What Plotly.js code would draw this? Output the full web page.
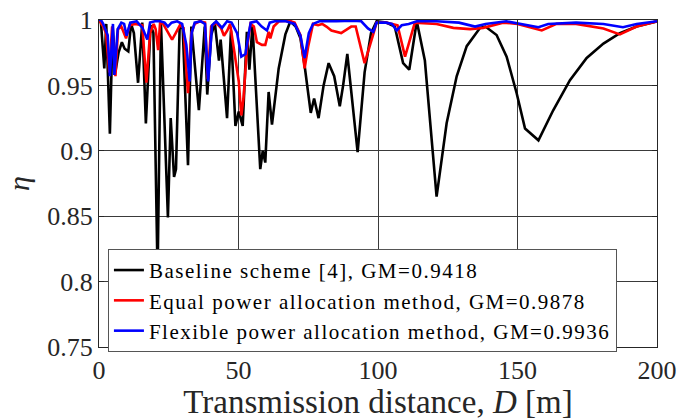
<!DOCTYPE html>
<html>
<head>
<meta charset="utf-8">
<script src="https://cdn.plot.ly/plotly-3.0.1.min.js"></script>
<style>
html,body{margin:0;padding:0;background:#fff;}
#chart{width:697px;height:420px;}
text.legendtext{letter-spacing:1.5px;}
</style>
</head>
<body>
<div id="chart"></div>
<script>
// Baseline scheme [4]
const baseD = [0, 0.7, 1.9, 2.6, 3.9, 4.9, 6.0, 7.0, 8.2, 9.2, 10.5, 11.5, 12.5, 14.0, 15.5, 16.8, 18.5, 19.5, 21.0, 22.2, 24.7, 25.7, 26.9, 27.6, 28.9, 30.0, 31.9, 33.1, 35.8, 36.8, 37.9, 38.8, 40.2, 41.5, 43.0, 43.6, 45.9, 47.3, 48.9, 50.1, 51.5, 53.0, 53.9, 55.0, 57.8, 58.7, 59.6, 60.8, 62.0, 64.4, 66.8, 68.6, 70.5, 72.2, 73.7, 75.9, 77.1, 78.7, 80.5, 82.3, 84.3, 86.3, 87.5, 89.0, 90.8, 92.7, 95.2, 97.5, 99.5, 103, 106, 109, 111.2, 113.9, 116.8, 119.2, 121, 124.6, 128.2, 131.8, 136.6, 138.5, 142.5, 146.1, 149.7, 152.7, 157.5, 162.8, 168.8, 174.8, 180.8, 186.7, 192.7, 200];
const baseEta = [1.0, 0.998, 0.963, 0.997, 0.913, 0.995, 0.962, 0.975, 0.983, 0.978, 0.976, 0.997, 0.99, 0.952, 0.998, 0.921, 0.996, 0.99, 0.805, 0.998, 0.849, 0.925, 0.880, 0.886, 0.994, 0.994, 0.889, 0.995, 0.931, 0.962, 0.995, 0.943, 0.988, 0.998, 0.969, 0.985, 0.925, 0.992, 0.919, 0.930, 0.919, 0.991, 0.962, 0.996, 0.886, 0.900, 0.891, 0.945, 0.920, 0.963, 0.989, 0.999, 0.995, 0.986, 0.965, 0.929, 0.940, 0.925, 0.950, 0.967, 0.957, 0.934, 0.950, 0.974, 0.940, 0.899, 0.960, 0.990, 0.999, 0.998, 0.995, 0.967, 0.962, 0.999, 0.969, 0.906, 0.865, 0.921, 0.957, 0.980, 0.994, 0.995, 0.9885, 0.972, 0.944, 0.917, 0.908, 0.931, 0.954, 0.971, 0.982, 0.990, 0.995, 0.999];

// Equal power allocation method
const equalD = [0, 0.7, 1.5, 2.5, 3.7, 4.7, 5.9, 6.8, 8.0, 9.7, 11.0, 13.0, 15.5, 17.0, 18.3, 19.6, 20.3, 21.2, 21.9, 23.0, 24.7, 26.2, 27.5, 29.0, 30.3, 31.9, 33.1, 34.3, 36, 38, 39.0, 40.2, 42, 43.8, 44.8, 46, 47, 48.9, 50.1, 51.0, 51.8, 53, 54.3, 55.5, 56.6, 58.4, 59.6, 60.8, 61.4, 62.6, 64.5, 68, 70.1, 72.2, 73.7, 75, 76.7, 78.5, 80, 81.5, 83.3, 86.8, 90.4, 92, 93.4, 95.2, 98.2, 99.5, 103, 107, 109.7, 113.2, 121, 127, 133, 137.7, 144.8, 150, 158.7, 164, 171, 180.8, 186.7, 192.7, 200];
const equalEta = [1.0, 0.998, 0.995, 0.99, 0.96, 0.995, 0.957, 0.993, 0.995, 0.986, 0.996, 0.997, 0.996, 0.952, 0.99, 0.997, 0.993, 0.977, 0.998, 0.997, 0.991, 0.985, 0.99, 0.996, 0.994, 0.944, 0.99, 0.997, 0.999, 0.998, 0.955, 0.995, 0.998, 0.9935, 0.988, 0.992, 0.997, 0.971, 0.953, 0.927, 0.94, 0.978, 0.997, 0.995, 0.983, 0.981, 0.981, 0.991, 0.986, 0.995, 0.999, 0.9995, 0.998, 0.9885, 0.963, 0.98, 0.997, 0.996, 0.997, 0.995, 0.992, 0.99, 0.995, 0.995, 0.983, 0.967, 0.9885, 0.998, 0.998, 0.996, 0.972, 0.998, 0.997, 0.994, 0.993, 0.994, 0.998, 0.997, 0.992, 0.997, 0.997, 0.9935, 0.989, 0.995, 0.999];

// Flexible power allocation method
const flexD = [0, 0.7, 1.5, 3.1, 3.9, 5.0, 5.5, 6.7, 8.0, 9.0, 9.9, 11.2, 13.5, 15.6, 17.3, 18.3, 20, 22, 23.5, 24.7, 26.0, 28, 29.8, 31.3, 32.5, 33.2, 34.3, 36.5, 38.0, 39.1, 40.5, 42, 44.1, 45.9, 47.5, 49.5, 51.0, 52.5, 53.7, 54.4, 56.5, 58.3, 60.2, 61.2, 63, 67, 70.1, 72.2, 73.7, 75.2, 76.7, 79, 85, 91, 94, 96.4, 98.3, 99.5, 102.8, 105, 106.7, 108.5, 111, 113.9, 121, 129, 134.8, 138.5, 146, 151, 157.5, 161, 171, 180.8, 187.8, 192.7, 200];
const flexEta = [1.0, 1.0, 0.997, 0.9885, 0.957, 0.997, 0.958, 0.993, 0.998, 0.997, 0.988, 0.998, 0.999, 0.994, 0.985, 0.998, 0.999, 0.999, 0.998, 0.995, 0.998, 0.999, 0.997, 0.981, 0.953, 0.99, 0.998, 0.999, 0.997, 0.953, 0.996, 0.999, 0.994, 0.999, 0.998, 0.99, 0.972, 0.974, 0.99, 0.998, 0.999, 0.995, 0.992, 0.998, 0.999, 0.999, 0.997, 0.988, 0.971, 0.99, 0.997, 0.999, 0.999, 0.9995, 0.999, 0.9936, 0.991, 0.998, 0.998, 0.997, 0.992, 0.996, 0.997, 0.999, 0.999, 0.998, 0.995, 0.997, 0.999, 0.997, 0.9945, 0.997, 0.998, 0.997, 0.9945, 0.997, 0.999];

const seriesNames = [
  'Baseline scheme [4], GM=0.9418',
  'Equal power allocation method, GM=0.9878',
  'Flexible power allocation method, GM=0.9936'
];
const xTickVals = [0, 50, 100, 150, 200];
const yTickVals = [0.75, 0.8, 0.85, 0.9, 0.95, 1];
const yTickText = ['0.75', '0.8', '0.85', '0.9', '0.95', '1'];

const FONT = '"Liberation Serif", "Times New Roman", serif';
const traces = [
  {x: baseD, y: baseEta, name: seriesNames[0], mode: 'lines', line: {color: '#000000', width: 2.6}},
  {x: equalD, y: equalEta, name: seriesNames[1], mode: 'lines', line: {color: '#ff0000', width: 2.6}},
  {x: flexD, y: flexEta, name: seriesNames[2], mode: 'lines', line: {color: '#0000ff', width: 2.6}}
];
function axisBase() {
  return {
    showline: true, mirror: 'ticks', linecolor: '#262626', linewidth: 1,
    showgrid: true, gridcolor: '#3a3a3a', gridwidth: 1,
    zeroline: false, ticks: 'inside', ticklen: 5, tickcolor: '#262626',
    tickfont: {family: FONT, size: 26, color: '#262626'}
  };
}
const layout = {
  width: 697, height: 420,
  margin: {l: 99, r: 40, t: 20, b: 73},
  font: {family: FONT, size: 26, color: '#262626'},
  paper_bgcolor: '#ffffff', plot_bgcolor: '#ffffff',
  showlegend: true,
  xaxis: Object.assign(axisBase(), {
    range: [0, 200], tickvals: xTickVals, ticktext: xTickVals.map(String),
    title: {text: 'Transmission distance, <i>D</i> [m]', font: {family: FONT, size: 33, color: '#262626'}, standoff: 2}
  }),
  yaxis: Object.assign(axisBase(), {
    range: [0.75, 1], tickvals: yTickVals, ticktext: yTickText,
    title: {text: '<i>η</i>', font: {family: FONT, size: 30, color: '#262626'}, standoff: 8}
  }),
  legend: {
    x: 0.016, y: 0.300, xanchor: 'left', yanchor: 'top',
    bgcolor: '#ffffff', bordercolor: '#555555', borderwidth: 1,
    font: {family: FONT, size: 21, color: '#000000'},
    tracegroupgap: 0, itemwidth: 30
  }
};
Plotly.newPlot('chart', traces, layout, {displayModeBar: false, staticPlot: true});
</script>
</body>
</html>
